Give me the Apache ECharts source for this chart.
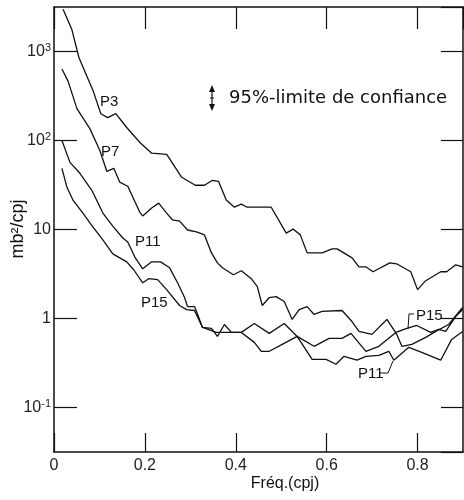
<!DOCTYPE html>
<html>
<head>
<meta charset="utf-8">
<script src="https://cdn.jsdelivr.net/npm/echarts@6/dist/echarts.min.js"></script>
<style>html,body{margin:0;padding:0;background:#fff}#c{width:464px;height:500px}</style>
</head>
<body>
<div id="c"></div>
<script>
// Frequencies (cpj) and spectral densities (mb²/cpj)
const p3 = [[0.020,2985],[0.039,1780],[0.055,850],[0.086,363],[0.103,200],[0.118,181],[0.136,200],[0.160,140],[0.189,95],[0.215,72],[0.248,70],[0.281,38.6],[0.311,31.4],[0.331,31.4],[0.349,35.7],[0.362,34.8],[0.379,21.4],[0.397,17.8],[0.412,19.3],[0.425,17.8],[0.478,17.8],[0.511,9.1],[0.526,10.1],[0.542,8.7],[0.557,5.46],[0.590,5.46],[0.612,6.05],[0.623,6.05],[0.656,4.8],[0.671,3.81],[0.686,3.81],[0.702,3.35],[0.739,4.22],[0.754,4.12],[0.785,3.35],[0.800,2.11],[0.818,2.66],[0.851,3.35],[0.864,3.35],[0.884,4.01],[0.899,3.81]];
const p7 = [[0.0175,637],[0.0307,468],[0.0504,228],[0.0789,136],[0.1009,77.3],[0.1162,45.1],[0.1316,48.7],[0.1447,34.0],[0.1623,30.6],[0.1886,15.7],[0.1952,14.2],[0.2149,17.4],[0.2303,19.8],[0.2478,15.3],[0.2610,12.8],[0.2763,12.4],[0.2939,9.87],[0.3136,9.38],[0.3311,8.69],[0.3465,5.46],[0.3596,4.22],[0.3706,3.71],[0.3947,3.10],[0.4123,3.44],[0.4342,2.80],[0.4474,2.28],[0.4583,1.40],[0.4737,1.72],[0.4890,1.76],[0.5066,1.55],[0.5241,0.975],[0.5395,1.26],[0.5570,1.36],[0.5724,1.11],[0.5899,1.20],[0.6338,1.23],[0.6557,0.925],[0.6711,0.716],[0.6996,0.663],[0.7325,0.975],[0.7544,0.663],[0.7654,0.487],[0.7873,0.512],[0.8180,0.614],[0.8399,0.716],[0.8684,0.857],[0.8991,1.33]];
const p11 = [[0.0175,100],[0.0351,56.8],[0.0570,42.8],[0.0833,27.6],[0.1075,15.3],[0.1294,10.9],[0.1513,8.03],[0.1623,7.25],[0.1776,4.93],[0.1952,3.62],[0.2149,4.33],[0.2346,4.33],[0.2544,3.71],[0.2719,2.52],[0.2873,1.72],[0.2939,1.36],[0.3092,1.36],[0.3136,1.20],[0.3268,0.793],[0.3465,0.773],[0.3596,0.629],[0.3750,0.857],[0.3904,0.698],[0.4123,0.698],[0.4408,0.539],[0.4561,0.428],[0.4737,0.428],[0.5022,0.512],[0.5351,0.629],[0.5680,0.348],[0.5987,0.348],[0.6206,0.306],[0.6382,0.376],[0.6667,0.340],[0.6864,0.376],[0.7149,0.386],[0.7368,0.428],[0.7478,0.340],[0.7807,0.474],[0.8092,0.417],[0.8509,0.340],[0.8750,0.582],[0.8991,0.716]];
const p15 = [[0.0175,48.7],[0.0285,29.8],[0.0417,21.4],[0.0636,15.3],[0.0855,10.7],[0.1075,7.63],[0.1294,5.32],[0.1601,4.33],[0.1754,3.53],[0.1952,2.52],[0.2083,2.80],[0.2281,2.73],[0.2478,2.11],[0.2763,1.40],[0.2917,1.26],[0.3092,1.23],[0.3268,0.793],[0.3575,0.698],[0.3860,0.698],[0.4123,0.698],[0.4408,0.880],[0.4737,0.680],[0.5066,0.880],[0.5351,0.629],[0.5724,0.487],[0.6053,0.598],[0.6338,0.598],[0.6535,0.680],[0.6864,0.428],[0.7149,0.487],[0.7522,0.698],[0.7763,0.773],[0.7982,0.835],[0.8289,0.698],[0.8465,0.753],[0.8618,0.716],[0.8838,1.05],[0.8991,1.26]];
const xTickLabels = {0:'0',0.2:'0.2',0.4:'0.4',0.6:'0.6',0.8:'0.8'};
const yTickLabels = {'1000':'10{s|3}','100':'10{s|2}','10':'10','1':'1','0.1':'10{s|-1}'};

const FONT = 'Liberation Sans';
const INK = '#111';
const chart = echarts.init(document.getElementById('c'), null, {renderer:'canvas'});
const yMin = Math.pow(10,-1.5), yMax = Math.pow(10,3.5);
function mkLine(name, data){
  return {name, type:'line', data, showSymbol:false, symbol:'none', xAxisIndex:0, yAxisIndex:0,
    lineStyle:{color:INK, width:1.3}, silent:true};
}
const lbl = (t,x,y)=>({type:'text', left:x, top:y, style:{text:t, font:'15px "'+FONT+'"', fill:INK}});
const axLine = {show:true, onZero:false, lineStyle:{color:INK, width:1.5}};
chart.setOption({
  animation:false,
  backgroundColor:'#fff',
  grid:{left:54, top:7, right:1, bottom:48, containLabel:false, outerBoundsMode:'none'},
  xAxis:[
    {type:'value', min:0, max:0.9, interval:0.2, position:'bottom',
     axisLine:axLine,
     axisTick:{show:true, inside:true, length:19, lineStyle:{color:INK, width:1.2}},
     axisLabel:{show:true, showMaxLabel:false, margin:6, color:'#222', fontFamily:FONT, fontSize:16,
       formatter:v=>xTickLabels[Math.round(v*10)/10] ?? ''},
     splitLine:{show:false}},
    {type:'value', min:0, max:0.9, interval:0.2, position:'top',
     axisLine:axLine,
     axisTick:{show:true, inside:true, length:22, lineStyle:{color:INK, width:1.2}},
     axisLabel:{show:false}, splitLine:{show:false}}
  ],
  yAxis:[
    {type:'log', logBase:10, min:yMin, max:yMax, position:'left',
     axisLine:axLine,
     axisTick:{show:true, inside:true, length:23, lineStyle:{color:INK, width:1.2}},
     splitLine:{show:false},
     axisLabel:{show:true, showMinLabel:false, showMaxLabel:false, margin:3, color:'#222', fontFamily:FONT, fontSize:16,
       formatter:v=>{const k=String(+v.toPrecision(3)); return yTickLabels[k] ?? '';},
       rich:{s:{fontSize:11, verticalAlign:'top', padding:[0,0,8,0], fontFamily:FONT, color:'#222'}}}},
    {type:'log', logBase:10, min:yMin, max:yMax, position:'right',
     axisLine:axLine,
     axisTick:{show:true, inside:true, length:22, lineStyle:{color:INK, width:1.2}},
     axisLabel:{show:false}, splitLine:{show:false}}
  ],
  series:[mkLine('P3',p3), mkLine('P7',p7), mkLine('P11',p11), mkLine('P15',p15)],
  graphic:[
    {type:'line', shape:{x1:212,y1:88,x2:212,y2:108}, style:{stroke:INK, lineWidth:1.2}},
    {type:'polygon', shape:{points:[[209,92],[212,85],[215,92]]}, style:{fill:INK}},
    {type:'polygon', shape:{points:[[209,104],[212,111],[215,104]]}, style:{fill:INK}},
    {type:'line', shape:{x1:210,y1:98,x2:214,y2:98}, style:{stroke:INK, lineWidth:1}},
    {type:'text', x:229, y:98, style:{text:'95%-limite de confiance', font:'18px "DejaVu Sans"', fill:INK, align:'left', verticalAlign:'middle'}},
    lbl('P3',100,94), lbl('P7',101,144), lbl('P11',135,234), lbl('P15',141,295),
    lbl('P15',416,308), lbl('P11',358,366),
    {type:'polyline', shape:{points:[[408,329],[409,314],[414,314]]}, style:{stroke:INK, lineWidth:1, fill:null}},
    {type:'polyline', shape:{points:[[380,373],[388,373],[393,361]]}, style:{stroke:INK, lineWidth:1, fill:null}},
    {type:'text', x:285, y:484, style:{text:'Fréq.(cpj)', font:'16px "'+FONT+'"', fill:INK, align:'center', verticalAlign:'middle'}},
    {type:'text', x:18, y:229, rotation:Math.PI/2, style:{text:'mb²/cpj', font:'18px "'+FONT+'"', fill:INK, align:'center', verticalAlign:'middle'}}
  ]
});
</script>
</body>
</html>
